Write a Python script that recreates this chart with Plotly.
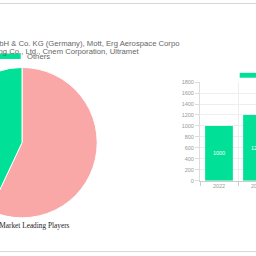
import plotly.graph_objects as go

# ---- data ----
pie_labels = [
    "Pohltec Metalfoam GmbH & Co. KG (Germany), Mott, Erg Aerospace Corporation, Hunan Xinyin Manufacturing Co., Ltd., Cnem Corporation, Ultramet",
    "Others",
]
pie_values = [57, 43]
pie_colors = ["#F9A7A7", "#00E096"]

bar_years = ["2022", "2023"]
bar_values = [1000, 1200]
bar_color = "#00E096"

legend_line1 = "Pohltec Metalfoam GmbH & Co. KG (Germany), Mott, Erg Aerospace Corpo"
legend_line2 = "ration, Hunan Xinyin Manufacturing Co., Ltd., Cnem Corporation, Ultramet"
title_text = "Metal Foam Market Leading Players"

# ---- layout geometry (virtual canvas, shifted left in page) ----
L = 60
W = 376
H = 256

def px(x):
    return (x + L) / W

def py(y):
    return (H - y) / H

fig = go.Figure()

fig.add_trace(go.Pie(
    labels=pie_labels, values=pie_values,
    marker=dict(colors=pie_colors, line=dict(color="white", width=1)),
    sort=False, direction="clockwise", rotation=0,
    textinfo="none", hoverinfo="skip", showlegend=False,
    domain=dict(x=[px(22 - 77), px(22 + 77)], y=[py(220), py(66)]),
))

fig.add_trace(go.Bar(
    x=bar_years, y=bar_values, marker=dict(color=bar_color, line=dict(width=0)),
    width=0.73, text=[str(v) for v in bar_values], textposition="inside",
    insidetextanchor="middle", textfont=dict(color="white", size=5.5, family="Liberation Sans"),
    hoverinfo="skip", showlegend=False, xaxis="x", yaxis="y",
))

fig.update_layout(
    width=W, height=H, margin=dict(l=0, r=0, t=0, b=0),
    paper_bgcolor="white", plot_bgcolor="white",
    showlegend=False,
    xaxis=dict(domain=[px(200), px(276)], range=[-0.5, 1.5], type="category",
               tickson="boundaries", showgrid=True, gridcolor="#EEEEEE", gridwidth=1,
               ticks="outside", ticklen=4, tickcolor="#CCCCCC",
               showline=True, linecolor="#CCCCCC", linewidth=1,
               tickfont=dict(size=5.5, color="#999999", family="Liberation Sans"),
               zeroline=False, fixedrange=True),
    yaxis=dict(domain=[py(182), py(81)], range=[0, 1800], dtick=200,
               showgrid=True, gridcolor="#EEEEEE", gridwidth=1,
               ticks="outside", ticklen=4, tickcolor="#DDDDDD",
               showline=True, linecolor="#DDDDDD", linewidth=1,
               tickfont=dict(size=5.5, color="#999999", family="Liberation Sans"),
               zeroline=False, fixedrange=True),
    shapes=[
        dict(type="line", xref="paper", yref="paper", x0=0, x1=1, y0=py(0.5), y1=py(0.5),
             line=dict(color="#D8D8D8", width=1)),
        dict(type="line", xref="paper", yref="paper", x0=0, x1=1, y0=py(254.5), y1=py(254.5),
             line=dict(color="#D8D8D8", width=1)),
        dict(type="rect", xref="paper", yref="paper", x0=px(-5), x1=px(20.7), y0=py(57.3), y1=py(51.7),
             fillcolor=pie_colors[1], line=dict(width=0)),
        dict(type="rect", xref="paper", yref="paper", x0=px(239.7), x1=px(265), y0=py(76.5), y1=py(71.5),
             fillcolor=bar_color, line=dict(width=0)),
    ],
    annotations=[
        dict(text=legend_line1, xref="paper", yref="paper", x=px(181), y=py(41),
             xanchor="right", yanchor="middle", showarrow=False,
             font=dict(size=7.7, color="#666666", family="Liberation Sans")),
        dict(text=legend_line2, xref="paper", yref="paper", x=px(142), y=py(50),
             xanchor="right", yanchor="middle", showarrow=False,
             font=dict(size=7.7, color="#666666", family="Liberation Sans")),
        dict(text=pie_labels[1], xref="paper", yref="paper", x=px(24.5), y=py(55),
             xanchor="left", yanchor="middle", showarrow=False,
             font=dict(size=7.7, color="#666666", family="Liberation Sans")),
        dict(text=title_text, xref="paper", yref="paper", x=px(71.5), y=py(228),
             xanchor="right", yanchor="middle", showarrow=False,
             font=dict(size=7.3, color="#222222", family="Liberation Serif")),
    ],
)

post = """
var d = document.getElementById('{plot_id}');
d.style.position = 'absolute';
d.style.left = '-60px';
d.style.top = '0px';
document.body.style.margin = '0';
document.body.style.overflow = 'hidden';
document.documentElement.style.overflow = 'hidden';
"""

fig.write_html("out.html", config={"displayModeBar": False, "staticPlot": True}, post_script=post)
